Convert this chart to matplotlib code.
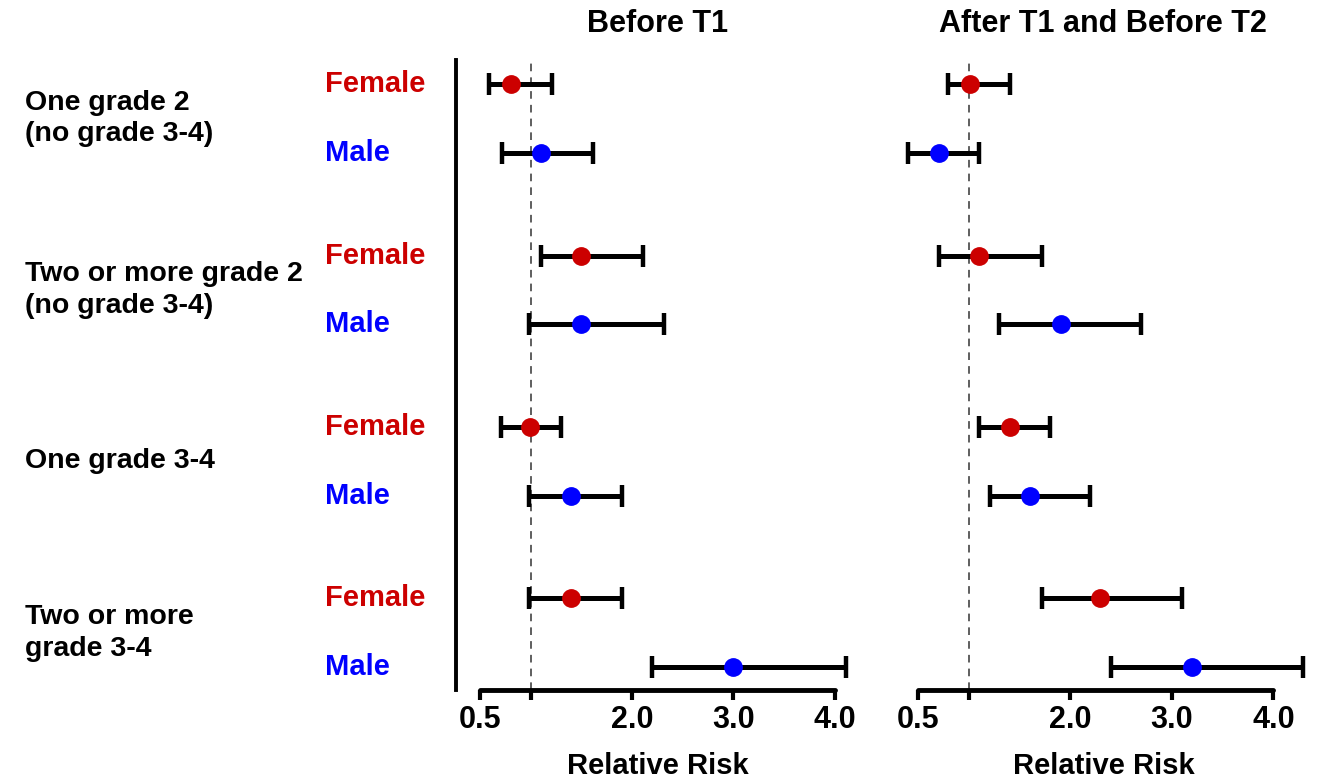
import numpy as np
import matplotlib
matplotlib.use("Agg")
import matplotlib.pyplot as plt
from matplotlib.transforms import blended_transform_factory

plt.rcParams['font.family'] = ['Liberation Sans', 'DejaVu Sans']
plt.rcParams['font.weight'] = 'bold'

groups = ["One grade 2\n(no grade 3-4)", "Two or more grade 2\n(no grade 3-4)",
          "One grade 3-4", "Two or more\ngrade 3-4"]
sexes = ["Female", "Male"]
sex_colors = ["#cc0000", "#0000ff"]

# Before T1: (female, male) per group
before_est = [[0.80, 1.10], [1.49, 1.49], [0.99, 1.40], [1.40, 3.00]]
before_lo = [[0.59, 0.71], [1.10, 0.98], [0.70, 0.98], [0.98, 2.20]]
before_hi = [[1.21, 1.61], [2.11, 2.31], [1.30, 1.90], [1.90, 4.11]]

# After T1 and before T2
after_est = [[1.01, 0.71], [1.10, 1.91], [1.41, 1.60], [2.29, 3.20]]
after_lo = [[0.80, 0.40], [0.71, 1.30], [1.10, 1.21], [1.72, 2.40]]
after_hi = [[1.41, 1.10], [1.72, 2.70], [1.80, 2.19], [3.10, 4.29]]

xticks = [0.5, 1.0, 2.0, 3.0, 4.0]
xticklabels = ["0.5", "", "2.0", "3.0", "4.0"]

fig = plt.figure(figsize=(13.2, 7.79), dpi=100)
ax1 = fig.add_axes([0.3455, 0.1142, 0.306, 0.8087])
ax2 = fig.add_axes([0.680, 0.1142, 0.3117, 0.8087])

ypos = [[-2.5 * g, -2.5 * g - 1] for g in range(4)]


def draw_panel(ax, est, lo, hi, title, xlim, show_left):
    for g in range(4):
        for s in range(2):
            e = est[g][s]
            err = [[e - lo[g][s]], [hi[g][s] - e]]
            ax.errorbar([e], [ypos[g][s]], xerr=err, fmt='o', color=sex_colors[s],
                        ecolor='black', elinewidth=3.6, capsize=8, capthick=3.2,
                        markersize=12.5, zorder=3)
    ax.axvline(1.0, color='#333333', lw=1.1, ls=(0, (5, 4)), zorder=1)
    ax.set_xlim(*xlim)
    ax.set_ylim(-8.835, 0.35)
    ax.set_xticks(xticks)
    ax.set_xticklabels(xticklabels)
    ax.tick_params(axis='x', length=7, width=3, pad=4, labelsize=22)
    ax.set_yticks([])
    ax.spines['top'].set_visible(False)
    ax.spines['right'].set_visible(False)
    ax.spines['bottom'].set_bounds(0.5, 4.0)
    ax.spines['bottom'].set_linewidth(3.5)
    ax.spines['bottom'].set_capstyle('round')
    if show_left:
        ax.spines['left'].set_linewidth(2.8)
    else:
        ax.spines['left'].set_visible(False)
    ax.set_title(title, fontsize=22, fontweight='bold', pad=20)
    ax.set_xlabel("Relative Risk", fontsize=21, fontweight='bold', labelpad=12)


draw_panel(ax1, before_est, before_lo, before_hi, "Before T1", (0.26, 4.25), True)
draw_panel(ax2, after_est, after_lo, after_hi, "After T1 and Before T2", (0.30, 4.35), False)

tr = blended_transform_factory(fig.transFigure, ax1.transData)
for g in range(4):
    mid = (ypos[g][0] + ypos[g][1]) / 2
    ax1.text(25 / 1320, mid, groups[g], transform=tr, ha='left', va='center',
             fontsize=20.5, fontweight='bold', linespacing=1.28, clip_on=False)
    for s in range(2):
        ax1.text(325 / 1320, ypos[g][s], sexes[s], transform=tr, ha='left', va='center',
                 fontsize=21, fontweight='bold', color=sex_colors[s], clip_on=False)

plt.savefig("out.png", dpi=100)
